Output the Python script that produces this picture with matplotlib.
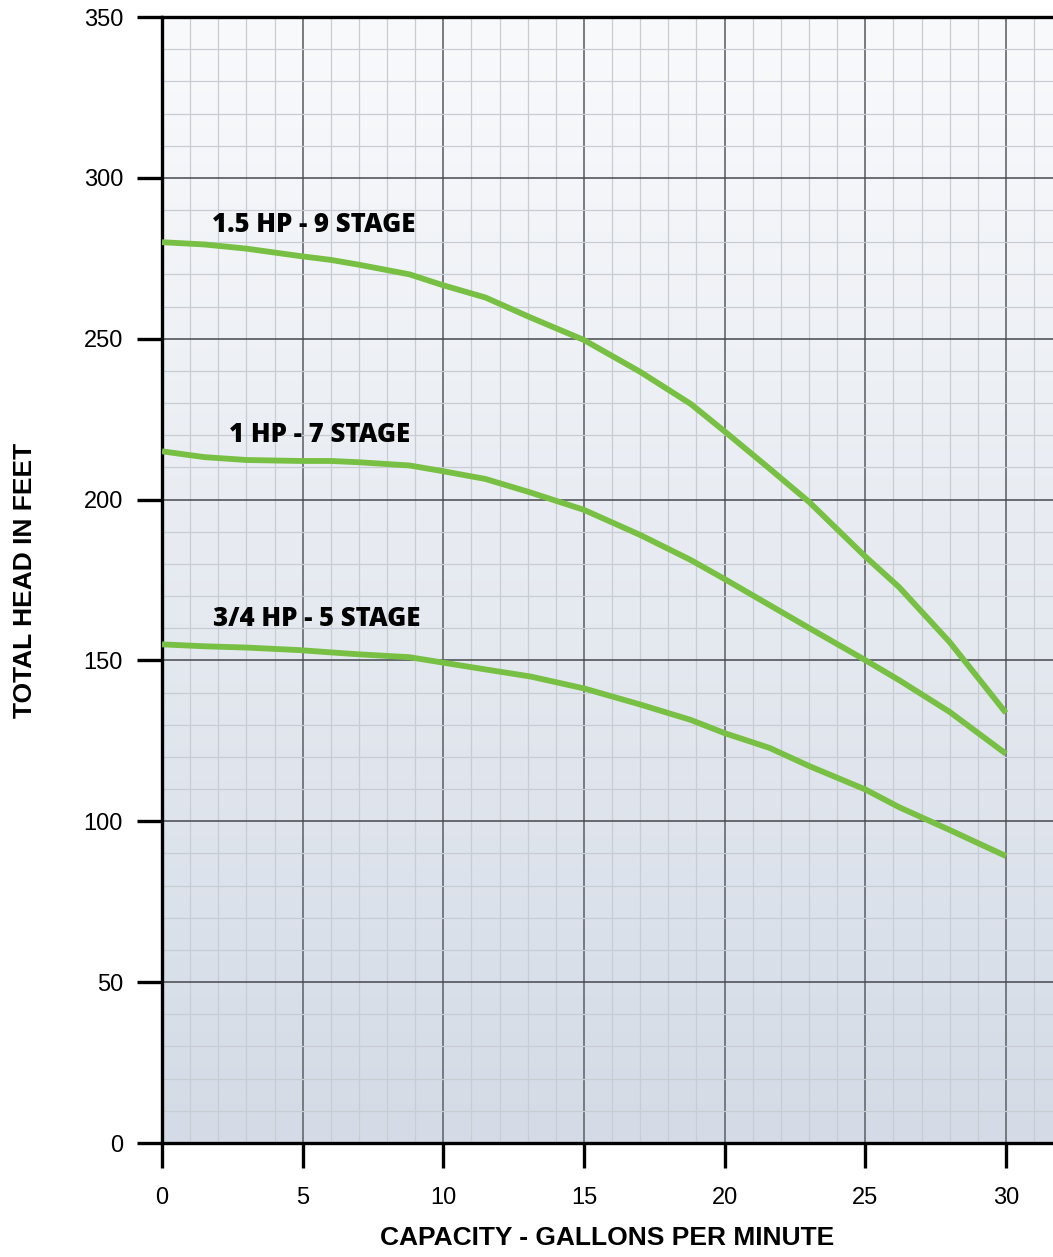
import numpy as np
import matplotlib.pyplot as plt
from matplotlib.colors import LinearSegmentedColormap

## Pump curve data:
gpm = [0, 1.5, 3, 4.9, 6, 7, 8.8, 10, 11.5, 13.1, 15, 17, 18.8, 20, 21.6, 23, 25, 26.2, 28, 30]

head_15hp = [280, 279.3, 278, 275.7, 274.5, 273, 270, 266.6, 262.8, 256.6,
             249.6, 239.7, 229.7, 221.2, 209.6, 199.3, 182.3, 172.8, 155.7, 133.7]
head_1hp = [215, 213.2, 212.3, 212, 212, 211.6, 210.6, 208.8, 206.4, 202.2,
            196.8, 189, 181.2, 175.3, 167.2, 160.1, 150.1, 143.9, 134, 121]
head_34hp = [155, 154.4, 154, 153.2, 152.5, 151.9, 151, 149.3, 147.2, 145,
             141.3, 136.3, 131.5, 127.4, 122.8, 117.2, 109.9, 104.4, 97.3, 89.2]

curve_names = ['1.5 HP - 9 STAGE', '1 HP - 7 STAGE', '3/4 HP - 5 STAGE']
curve_heads = [head_15hp, head_1hp, head_34hp]
label_pos = [(5.4, 285.5), (5.6, 220), (5.5, 163)]

xticks = [0, 5, 10, 15, 20, 25, 30]
yticks = [0, 50, 100, 150, 200, 250, 300, 350]

green = '#78c043'

fig = plt.figure(figsize=(10.53, 12.57), dpi=100)
ax = fig.add_axes([162/1053, 1 - 1143/1257, 1 - 162/1053, (1143 - 17)/1257])

xmax = (1053 - 162) / 28.13

# gradient background (light at top, bluish grey at bottom)
grad = np.linspace(1, 0, 256).reshape(-1, 1)
cmap = LinearSegmentedColormap.from_list('bg', ['#f9fafc', '#d4dbe6'])
ax.imshow(grad, cmap=cmap, aspect='auto', origin='lower',
          extent=[0, xmax, 0, 350], zorder=0)
ax.set_xlim(0, xmax)
ax.set_ylim(0, 350)

# grid
for v in np.arange(1, 32, 1):
    if v % 5 == 0:
        ax.axvline(v, color='#6e7177', lw=1.3, zorder=1)
    else:
        ax.axvline(v, color='#c8ccd3', lw=0.9, zorder=1)
for h in np.arange(10, 350, 10):
    if h % 50 == 0:
        ax.axhline(h, color='#45484d', lw=1.1, zorder=1)
    else:
        ax.axhline(h, color='#c8ccd3', lw=0.9, zorder=1)

for heads in curve_heads:
    ax.plot(gpm, heads, color=green, lw=4.2, zorder=3, solid_capstyle='butt',
            solid_joinstyle='round')

for name, (lx, ly) in zip(curve_names, label_pos):
    ax.text(lx, ly, name, ha='center', va='center', fontsize=18.5, fontweight='heavy',
            family='Open Sans', color='black', zorder=4)

# spines
for s in ['left', 'bottom', 'top']:
    ax.spines[s].set_linewidth(2.4)
    ax.spines[s].set_color('black')
ax.spines['right'].set_visible(False)
ax.spines['top'].set_zorder(5)

ax.set_xticks(xticks)
ax.set_yticks(yticks)
ax.tick_params(direction='out', length=18, width=2.4, labelsize=17, colors='black')
ax.tick_params(axis='y', pad=10)
ax.tick_params(axis='x', pad=14)
for lab in ax.get_xticklabels() + ax.get_yticklabels():
    lab.set_family('Liberation Sans')

ax.set_xlabel('CAPACITY - GALLONS PER MINUTE', fontsize=19, fontweight='bold',
              family='Liberation Sans', labelpad=12)
ax.set_ylabel('TOTAL HEAD IN FEET', fontsize=19, fontweight='bold',
              family='Liberation Sans', labelpad=34)

plt.savefig('out.png', dpi=100)
